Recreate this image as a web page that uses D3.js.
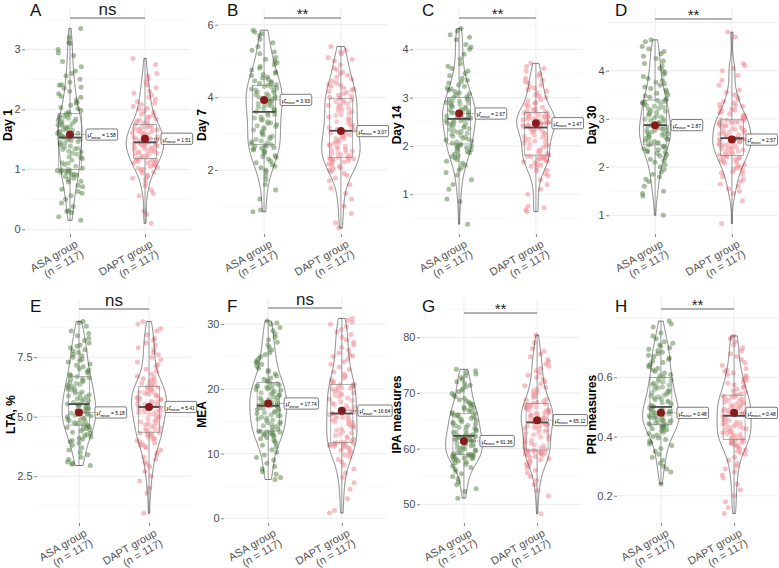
<!DOCTYPE html>
<html><head><meta charset="utf-8">
<script src="https://cdn.jsdelivr.net/npm/d3@7"></script>
<style>body{margin:0;background:#fff}svg{display:block}text{font-family:"Liberation Sans",Arial,Helvetica,sans-serif}</style>
</head><body><svg id="c" width="779" height="568"></svg>
<script>
// ---------------- DATA ----------------
const groups = ["ASA group", "DAPT group"];
const nLabels = ["(n = 117)", "(n = 117)"];
const panelTags = ["A","B","C","D","E","F","G","H"];
const yTitles = ["Day 1","Day 7","Day 14","Day 30","LTA, %","MEA","IPA measures","PRI measures"];
const sigLabels = ["ns","**","**","**","ns","ns","**","**"];
const meanASA  = [1.58, 3.93, 2.67, 2.87, 5.18, 17.74, 61.36, 0.48];
const meanDAPT = [1.51, 3.07, 2.47, 2.57, 5.41, 16.64, 65.12, 0.48];
const meanText = [["1.58","1.51"],["3.93","3.07"],["2.67","2.47"],["2.87","2.57"],["5.18","5.41"],["17.74","16.64"],["61.36","65.12"],["0.48","0.48"]];
// box stats: [lower whisker, q1, median, q3, upper whisker]
const boxASA = [[0.15,1.0,1.53,1.93,3.35],[0.85,2.7,3.6,4.33,5.85],[0.38,2.04,2.56,3.0,4.43],[1.0,2.46,2.87,3.39,4.64],
                [2.95,4.65,5.53,6.68,9.0],[6.0,13.5,17.4,20.96,30.5],[51.1,59.0,62.3,66.35,74.25],[0.24,0.44,0.50,0.60,0.79]];
const boxDAPT = [[0.1,1.18,1.45,1.75,2.85],[0.4,2.35,3.08,3.96,5.4],[0.64,1.81,2.38,2.69,3.71],[0.83,2.24,2.6,2.98,4.8],
                 [0.94,4.35,5.41,6.26,9.0],[0.8,11.7,16.2,20.7,30.9],[48.3,59.75,64.7,68.1,80.4],[0.14,0.39,0.47,0.54,0.74]];
const tickValues = [[0,1,2,3],[2,4,6],[1,2,3,4],[1,2,3,4],[2.5,5,7.5],[0,10,20,30],[50,60,70,80],[0.2,0.4,0.6]];
const tickLabels = [["0","1","2","3"],["2","4","6"],["1","2","3","4"],["1","2","3","4"],["2.5","5.0","7.5"],["0","10","20","30"],["50","60","70","80"],["0.2","0.4","0.6"]];

const asaDay1 = [0.15,0.21,0.28,0.3,0.31,0.38,0.44,0.5,0.56,0.6,0.63,0.67,0.71,0.73,0.79,0.8,0.83,0.85,0.88,0.9,0.91,0.92,0.95,0.95,0.96,0.98,0.98,0.99,1.0,
1.02,1.05,1.08,1.1,1.11,1.15,1.18,1.2,1.21,1.25,1.27,1.29,1.3,1.33,1.34,1.35,1.37,1.39,1.4,1.42,1.44,1.45,1.46,1.48,1.49,1.5,1.51,1.53,1.54,
1.55,1.57,1.58,1.6,1.6,1.62,1.63,1.65,1.66,1.67,1.69,1.7,1.71,1.73,1.74,1.75,1.77,1.78,1.8,1.8,1.82,1.84,1.85,1.86,1.88,1.89,1.9,1.92,1.93,
1.95,1.98,2.01,2.03,2.07,2.1,2.12,2.16,2.2,2.22,2.26,2.3,2.35,2.37,2.4,2.41,2.45,2.5,2.56,2.6,2.64,2.71,2.8,2.9,2.94,3.0,3.1,3.12,3.2,3.35];
const daptDay1 = [0.1,0.25,0.3,0.56,0.6,0.66,0.72,0.77,0.83,0.85,0.88,0.9,0.94,0.95,0.98,1.0,1.02,1.03,1.05,1.07,1.09,1.1,1.11,1.12,1.13,1.15,1.15,1.16,1.18,
1.19,1.2,1.21,1.22,1.23,1.25,1.26,1.27,1.28,1.29,1.3,1.31,1.32,1.33,1.34,1.35,1.36,1.37,1.38,1.39,1.4,1.4,1.41,1.42,1.43,1.43,1.44,1.45,1.45,
1.46,1.47,1.48,1.49,1.5,1.51,1.52,1.53,1.54,1.55,1.57,1.58,1.59,1.6,1.61,1.62,1.63,1.64,1.65,1.66,1.67,1.68,1.69,1.7,1.71,1.72,1.73,1.74,1.75,
1.77,1.79,1.8,1.82,1.84,1.86,1.88,1.9,1.92,1.95,1.97,2.0,2.02,2.05,2.08,2.1,2.13,2.17,2.2,2.24,2.27,2.3,2.36,2.4,2.45,2.5,2.56,2.6,2.75,2.85];
const asaDay7 = [0.85,0.9,1.2,1.45,1.6,1.74,1.85,1.95,2.0,2.06,2.1,2.15,2.2,2.24,2.3,2.35,2.37,2.4,2.45,2.5,2.52,2.55,2.58,2.6,2.62,2.65,2.66,2.68,2.7,
2.72,2.75,2.78,2.8,2.84,2.86,2.9,2.93,2.96,3.0,3.03,3.06,3.1,3.13,3.16,3.2,3.22,3.25,3.28,3.3,3.33,3.37,3.4,3.43,3.46,3.5,3.53,3.56,3.6,
3.62,3.65,3.68,3.7,3.73,3.76,3.78,3.8,3.83,3.86,3.88,3.9,3.93,3.95,3.98,4.0,4.03,4.05,4.08,4.1,4.13,4.15,4.18,4.2,4.23,4.25,4.28,4.3,4.33,
4.35,4.38,4.4,4.43,4.46,4.5,4.53,4.56,4.6,4.63,4.66,4.7,4.75,4.8,4.85,4.9,4.95,5.0,5.05,5.1,5.2,5.25,5.3,5.4,5.5,5.6,5.7,5.75,5.8,5.85];
const daptDay7 = [0.4,0.55,0.8,1.0,1.2,1.35,1.5,1.6,1.7,1.78,1.85,1.9,1.95,2.0,2.03,2.06,2.1,2.13,2.16,2.2,2.22,2.25,2.27,2.28,2.3,2.31,2.33,2.34,2.35,
2.37,2.4,2.42,2.45,2.47,2.5,2.52,2.55,2.57,2.6,2.62,2.65,2.67,2.7,2.72,2.75,2.77,2.8,2.82,2.85,2.87,2.9,2.92,2.95,2.97,3.0,3.02,3.05,3.08,
3.1,3.13,3.16,3.2,3.23,3.26,3.3,3.33,3.36,3.4,3.43,3.46,3.5,3.53,3.56,3.6,3.63,3.66,3.7,3.72,3.75,3.78,3.8,3.83,3.86,3.88,3.9,3.93,3.96,
3.98,4.0,4.03,4.06,4.1,4.13,4.16,4.2,4.23,4.26,4.3,4.33,4.36,4.4,4.45,4.5,4.55,4.6,4.65,4.7,4.75,4.8,4.9,5.0,5.05,5.1,5.2,5.25,5.3,5.4];
const asaDay14 = [0.38,0.85,0.9,1.1,1.2,1.3,1.4,1.45,1.5,1.55,1.6,1.64,1.68,1.72,1.75,1.78,1.8,1.83,1.86,1.88,1.9,1.92,1.94,1.96,1.98,2.0,2.01,2.02,2.04,
2.06,2.08,2.1,2.12,2.14,2.16,2.18,2.2,2.22,2.24,2.26,2.28,2.3,2.32,2.34,2.36,2.38,2.4,2.42,2.43,2.45,2.46,2.48,2.49,2.5,2.52,2.53,2.55,2.56,
2.57,2.59,2.6,2.62,2.63,2.65,2.66,2.68,2.69,2.7,2.72,2.73,2.75,2.76,2.78,2.8,2.81,2.83,2.84,2.86,2.88,2.89,2.9,2.92,2.93,2.95,2.96,2.98,3.0,
3.02,3.05,3.08,3.1,3.12,3.15,3.18,3.2,3.23,3.26,3.3,3.33,3.36,3.4,3.45,3.5,3.55,3.6,3.65,3.7,3.8,3.9,4.0,4.05,4.1,4.2,4.25,4.3,4.38,4.43];
const daptDay14 = [0.64,0.68,0.72,0.75,1.0,1.1,1.2,1.3,1.38,1.42,1.48,1.5,1.55,1.58,1.6,1.62,1.65,1.67,1.69,1.7,1.72,1.73,1.75,1.76,1.77,1.78,1.79,1.8,1.81,
1.83,1.85,1.88,1.9,1.92,1.95,1.97,2.0,2.02,2.04,2.06,2.08,2.1,2.12,2.14,2.16,2.18,2.2,2.22,2.24,2.26,2.28,2.3,2.31,2.33,2.34,2.35,2.37,2.38,
2.39,2.4,2.42,2.43,2.44,2.45,2.46,2.48,2.49,2.5,2.51,2.52,2.53,2.54,2.55,2.56,2.57,2.58,2.59,2.6,2.61,2.62,2.63,2.64,2.65,2.66,2.67,2.68,2.69,
2.71,2.73,2.75,2.77,2.8,2.82,2.85,2.88,2.9,2.93,2.96,3.0,3.03,3.06,3.1,3.13,3.16,3.2,3.23,3.26,3.3,3.33,3.36,3.4,3.45,3.5,3.55,3.6,3.65,3.71];
const asaDay30 = [1.0,1.4,1.45,1.5,1.6,1.7,1.75,1.8,1.85,1.9,1.95,2.0,2.05,2.1,2.13,2.16,2.2,2.23,2.26,2.28,2.3,2.32,2.34,2.36,2.38,2.4,2.42,2.44,2.46,
2.48,2.5,2.51,2.53,2.54,2.56,2.57,2.59,2.6,2.62,2.63,2.65,2.66,2.68,2.69,2.7,2.72,2.73,2.75,2.76,2.77,2.79,2.8,2.81,2.82,2.84,2.85,2.86,2.87,
2.89,2.91,2.93,2.95,2.97,2.99,3.0,3.02,3.04,3.06,3.08,3.1,3.12,3.14,3.16,3.18,3.2,3.22,3.24,3.26,3.28,3.3,3.32,3.33,3.34,3.35,3.36,3.38,3.39,
3.42,3.45,3.48,3.5,3.53,3.56,3.6,3.63,3.66,3.7,3.73,3.76,3.8,3.84,3.88,3.92,3.96,4.0,4.05,4.1,4.15,4.2,4.25,4.3,4.35,4.4,4.45,4.5,4.6,4.64];
const daptDay30 = [0.83,1.3,1.45,1.5,1.55,1.6,1.65,1.7,1.75,1.8,1.85,1.88,1.9,1.93,1.96,1.98,2.0,2.03,2.05,2.08,2.1,2.12,2.14,2.16,2.18,2.2,2.21,2.22,2.24,
2.25,2.27,2.28,2.3,2.31,2.33,2.34,2.36,2.37,2.38,2.4,2.41,2.42,2.43,2.45,2.46,2.47,2.48,2.5,2.51,2.52,2.53,2.54,2.55,2.56,2.57,2.58,2.59,2.6,
2.61,2.63,2.64,2.66,2.67,2.69,2.7,2.72,2.73,2.75,2.76,2.78,2.79,2.8,2.82,2.83,2.85,2.86,2.87,2.89,2.9,2.91,2.92,2.93,2.94,2.95,2.96,2.97,2.98,
3.0,3.02,3.03,3.06,3.08,3.1,3.13,3.16,3.18,3.2,3.23,3.26,3.28,3.3,3.33,3.36,3.4,3.45,3.5,3.55,3.6,3.7,3.8,3.9,4.0,4.05,4.1,4.15,4.7,4.8];
const asaLTA = [2.95,3.0,3.05,3.1,3.2,3.3,3.4,3.5,3.6,3.7,3.8,3.9,3.95,4.0,4.05,4.1,4.15,4.2,4.25,4.3,4.35,4.4,4.45,4.5,4.52,4.55,4.58,4.62,4.65,
4.68,4.7,4.73,4.76,4.8,4.83,4.86,4.9,4.93,4.96,5.0,5.03,5.06,5.1,5.13,5.16,5.2,5.23,5.26,5.3,5.33,5.36,5.4,5.42,5.45,5.47,5.5,5.52,5.53,
5.56,5.6,5.64,5.68,5.72,5.76,5.8,5.84,5.88,5.92,5.96,6.0,6.04,6.08,6.12,6.16,6.2,6.24,6.28,6.32,6.36,6.4,6.44,6.48,6.52,6.56,6.6,6.64,6.68,
6.72,6.78,6.84,6.9,6.96,7.02,7.1,7.16,7.22,7.3,7.36,7.42,7.5,7.56,7.62,7.7,7.76,7.82,7.9,7.96,8.02,8.1,8.2,8.3,8.4,8.5,8.6,8.8,8.95,9.0];
const daptLTA = [0.94,1.8,2.0,2.3,2.5,2.7,2.9,3.0,3.1,3.2,3.3,3.4,3.5,3.6,3.7,3.75,3.8,3.85,3.9,3.95,4.0,4.05,4.1,4.15,4.2,4.25,4.28,4.32,4.35,
4.38,4.42,4.46,4.5,4.54,4.58,4.62,4.66,4.7,4.74,4.78,4.82,4.86,4.9,4.94,4.98,5.02,5.06,5.1,5.13,5.16,5.2,5.23,5.26,5.3,5.33,5.36,5.39,5.41,
5.44,5.47,5.5,5.53,5.56,5.59,5.62,5.65,5.68,5.71,5.74,5.77,5.8,5.83,5.86,5.89,5.92,5.95,5.98,6.01,6.04,6.07,6.1,6.13,6.16,6.19,6.22,6.24,6.26,
6.3,6.35,6.4,6.45,6.5,6.55,6.6,6.65,6.7,6.8,6.9,7.0,7.1,7.2,7.3,7.4,7.5,7.6,7.7,7.8,7.9,8.0,8.1,8.2,8.3,8.45,8.6,8.7,8.9,9.0];
const asaMEA = [6.0,6.3,6.8,7.2,7.6,8.0,8.5,9.0,9.4,9.8,10.2,10.6,11.0,11.3,11.6,11.9,12.1,12.3,12.5,12.7,12.8,12.9,13.0,13.1,13.2,13.3,13.35,13.4,13.5,
13.6,13.8,14.0,14.2,14.3,14.5,14.6,14.8,14.9,15.1,15.2,15.4,15.5,15.6,15.8,15.9,16.0,16.2,16.3,16.4,16.5,16.6,16.8,16.9,17.0,17.1,17.2,17.3,17.4,
17.5,17.6,17.8,17.9,18.0,18.2,18.3,18.4,18.6,18.7,18.8,19.0,19.1,19.2,19.4,19.5,19.6,19.8,19.9,20.0,20.1,20.2,20.3,20.4,20.5,20.6,20.7,20.8,20.96,
21.1,21.3,21.5,21.7,22.0,22.3,22.6,22.9,23.2,23.5,23.8,24.0,24.1,24.4,24.7,25.0,25.3,25.6,26.0,26.4,26.8,27.2,27.6,28.0,28.5,29.0,29.5,30.0,30.2,30.5];
const daptMEA = [0.8,1.2,3.0,4.5,5.5,6.3,7.0,7.6,8.2,8.7,9.1,9.5,9.8,10.1,10.3,10.5,10.7,10.9,11.0,11.1,11.2,11.3,11.4,11.5,11.55,11.6,11.65,11.7,11.7,
11.8,12.0,12.2,12.4,12.6,12.8,13.0,13.2,13.4,13.6,13.8,14.0,14.2,14.3,14.5,14.6,14.8,14.9,15.1,15.2,15.4,15.5,15.6,15.8,15.9,16.0,16.1,16.15,16.2,
16.4,16.6,16.8,17.0,17.2,17.4,17.6,17.8,18.0,18.2,18.4,18.6,18.8,19.0,19.1,19.3,19.4,19.6,19.7,19.9,20.0,20.1,20.2,20.3,20.4,20.5,20.6,20.65,20.7,
20.9,21.1,21.4,21.7,22.0,22.3,22.6,23.0,23.4,23.8,24.2,24.6,25.0,25.1,25.3,25.6,26.0,26.4,26.8,27.2,27.6,28.0,28.4,28.8,29.2,29.6,30.0,30.3,30.6,30.9];
const asaIPA = [51.1,52.3,52.8,53.5,54.0,54.6,55.0,55.5,55.9,56.3,56.6,56.9,57.2,57.4,57.6,57.8,58.0,58.1,58.2,58.3,58.4,58.5,58.6,58.7,58.8,58.85,58.9,58.95,59.0,
59.1,59.2,59.3,59.5,59.6,59.7,59.9,60.0,60.1,60.2,60.4,60.5,60.6,60.8,60.9,61.0,61.1,61.3,61.4,61.5,61.6,61.7,61.8,61.9,62.0,62.1,62.2,62.25,62.3,
62.4,62.6,62.7,62.9,63.0,63.2,63.3,63.5,63.6,63.8,63.9,64.1,64.2,64.4,64.5,64.7,64.8,65.0,65.1,65.3,65.4,65.6,65.7,65.8,65.9,66.0,66.1,66.2,66.35,
66.5,66.7,66.9,67.1,67.3,67.5,67.7,67.9,68.1,68.3,68.5,68.8,69.0,69.3,69.6,69.9,70.2,70.5,70.8,71.1,71.4,71.7,72.0,72.4,72.8,73.1,73.4,73.7,74.0,74.25];
const daptIPA = [48.3,51.5,52.5,53.5,54.3,55.0,55.6,56.1,56.5,56.9,57.2,57.5,57.8,58.0,58.2,58.4,58.6,58.8,58.9,59.0,59.1,59.2,59.3,59.4,59.5,59.55,59.6,59.7,59.75,
59.9,60.1,60.3,60.5,60.7,60.9,61.1,61.3,61.5,61.7,61.9,62.1,62.3,62.5,62.7,62.9,63.1,63.3,63.5,63.6,63.8,63.9,64.0,64.1,64.2,64.3,64.4,64.55,64.7,
64.8,64.9,65.0,65.2,65.3,65.4,65.5,65.7,65.8,65.9,66.0,66.2,66.3,66.4,66.5,66.7,66.8,66.9,67.0,67.2,67.3,67.4,67.5,67.6,67.7,67.8,67.9,68.0,68.1,
68.3,68.5,68.7,68.9,69.2,69.5,69.8,70.1,70.4,70.7,71.0,71.3,71.6,72.0,72.4,72.8,73.2,73.6,74.0,74.4,74.8,75.2,75.6,76.0,76.5,77.0,77.5,78.0,79.0,80.4];
const asaPRI = [0.24,0.28,0.29,0.3,0.31,0.32,0.33,0.34,0.35,0.36,0.37,0.375,0.38,0.385,0.39,0.395,0.40,0.405,0.41,0.415,0.42,0.423,0.426,0.429,0.432,0.435,0.437,0.439,0.44,
0.442,0.444,0.446,0.448,0.45,0.452,0.454,0.456,0.458,0.46,0.462,0.464,0.466,0.468,0.47,0.472,0.474,0.476,0.478,0.48,0.482,0.484,0.486,0.488,0.49,0.492,0.494,0.497,0.50,
0.503,0.507,0.51,0.514,0.517,0.52,0.524,0.527,0.53,0.534,0.537,0.54,0.544,0.547,0.55,0.554,0.557,0.56,0.564,0.567,0.57,0.574,0.577,0.58,0.584,0.587,0.59,0.595,0.60,
0.605,0.61,0.615,0.62,0.625,0.63,0.635,0.64,0.645,0.65,0.655,0.66,0.665,0.67,0.675,0.68,0.685,0.69,0.695,0.70,0.705,0.71,0.715,0.72,0.73,0.74,0.75,0.77,0.78,0.79];
const daptPRI = [0.14,0.16,0.18,0.2,0.22,0.24,0.26,0.27,0.28,0.29,0.3,0.31,0.32,0.33,0.34,0.345,0.35,0.355,0.36,0.365,0.37,0.373,0.376,0.378,0.38,0.383,0.386,0.388,0.39,
0.393,0.396,0.398,0.40,0.403,0.406,0.408,0.41,0.413,0.416,0.418,0.42,0.423,0.426,0.428,0.43,0.433,0.436,0.438,0.44,0.443,0.446,0.448,0.45,0.453,0.456,0.46,0.465,0.47,
0.472,0.474,0.477,0.479,0.482,0.484,0.487,0.489,0.492,0.494,0.497,0.499,0.502,0.504,0.507,0.509,0.512,0.514,0.517,0.519,0.522,0.524,0.527,0.529,0.532,0.534,0.536,0.538,0.54,
0.545,0.55,0.555,0.56,0.565,0.57,0.575,0.58,0.585,0.59,0.595,0.6,0.605,0.61,0.615,0.62,0.625,0.63,0.64,0.65,0.66,0.67,0.68,0.69,0.70,0.71,0.72,0.73,0.735,0.74];

const seriesASA = [asaDay1, asaDay7, asaDay14, asaDay30, asaLTA, asaMEA, asaIPA, asaPRI];
const seriesDAPT = [daptDay1, daptDay7, daptDay14, daptDay30, daptLTA, daptMEA, daptIPA, daptPRI];

// ---------------- LAYOUT (pixels) ----------------
const layout = [
  {l:25, r:190, t:8, b:234, lo:-0.078, hi:3.69, sig:18},
  {l:218, r:387, t:8, b:234, lo:0.237, hi:6.46, sig:18},
  {l:413, r:582, t:8, b:234, lo:0.176, hi:4.855, sig:18},
  {l:609, r:778, t:8, b:234, lo:0.612, hi:5.30, sig:19},
  {l:37, r:191, t:298, b:523, lo:0.534, hi:9.99, sig:309},
  {l:224, r:386, t:298, b:523, lo:-0.73, hi:34.05, sig:308},
  {l:420, r:581, t:298, b:523, lo:46.64, hi:87.06, sig:313},
  {l:617, r:778, t:298, b:523, lo:0.108, hi:0.868, sig:309}
];
const tagX = [30, 227, 422, 615, 30, 227, 422, 615];
const tagY = [16, 16, 16, 16, 312, 312, 312, 312];
const fills = ["#4F7F3F", "#EE8C93"];
const fillOp = [0.5, 0.55];

const svg = d3.select("#c");

function kde(vals) {
  const s = vals.slice().sort(d3.ascending);
  const n = s.length, sd = d3.deviation(s);
  const iqr = d3.quantileSorted(s, 0.75) - d3.quantileSorted(s, 0.25);
  const bw = 0.9 * Math.min(sd, iqr / 1.34) * Math.pow(n, -0.2);
  const lo = s[0], hi = s[n - 1];
  return d3.range(512).map(i => {
    const yv = lo + (hi - lo) * i / 511;
    return [yv, d3.sum(s, v => Math.exp(-0.5 * ((yv - v) / bw) ** 2)) / (n * bw * Math.sqrt(2 * Math.PI))];
  });
}
// deterministic jitter offset in [-1, 1] (layout only, not data)
function jit(j, k) { const v = Math.sin((j + 1) * 12.9898 + k * 78.233) * 43758.5453; return (v - Math.floor(v)) * 2 - 1; }

layout.forEach((L, i) => {
  const g = svg.append("g");
  const x = d3.scalePoint().domain(groups).range([L.l, L.r]).padding(0.6);
  const step = x.step();
  const y = d3.scaleLinear().domain([L.lo, L.hi]).range([L.b, L.t]);
  const tk = tickValues[i], st = tk[1] - tk[0];

  // grid
  const majors = [], minors = [];
  for (let k = -20; k <= 20; k++) {
    const v = +(tk[0] + k * st).toFixed(6), m = +(tk[0] + (k + 0.5) * st).toFixed(6);
    if (v >= L.lo && v <= L.hi) majors.push(v);
    if (m >= L.lo && m <= L.hi) minors.push(m);
  }
  g.selectAll(".gmin").data(minors).join("line").attr("x1", L.l).attr("x2", L.r)
    .attr("y1", d => y(d)).attr("y2", d => y(d)).attr("stroke", "#F0F0F0").attr("stroke-width", 0.5);
  g.selectAll(".gmaj").data(majors).join("line").attr("x1", L.l).attr("x2", L.r)
    .attr("y1", d => y(d)).attr("y2", d => y(d)).attr("stroke", "#EAEAEA").attr("stroke-width", 0.9);
  g.selectAll(".gv").data(groups).join("line").attr("x1", d => x(d)).attr("x2", d => x(d))
    .attr("y1", L.t).attr("y2", L.b).attr("stroke", "#EAEAEA").attr("stroke-width", 0.9);

  const series = [seriesASA[i], seriesDAPT[i]];
  const boxes = [boxASA[i], boxDAPT[i]];
  const means = [meanASA[i], meanDAPT[i]];

  // points
  series.forEach((vals, gi) => {
    const cx = x(groups[gi]);
    g.append("g").selectAll("circle").data(vals).join("circle")
      .attr("cx", (d, j) => cx + jit(j, i * 2 + gi) * 0.17 * step)
      .attr("cy", d => y(d)).attr("r", 2.5)
      .attr("fill", fills[gi]).attr("fill-opacity", fillOp[gi]);
  });

  // boxes
  boxes.forEach((b, gi) => {
    const cx = x(groups[gi]), hw = 0.15 * step;
    const bg = g.append("g");
    bg.append("line").attr("x1", cx).attr("x2", cx).attr("y1", y(b[0])).attr("y2", y(b[1]))
      .attr("stroke", "#7d7d7d").attr("stroke-width", 0.7);
    bg.append("line").attr("x1", cx).attr("x2", cx).attr("y1", y(b[3])).attr("y2", y(b[4]))
      .attr("stroke", "#7d7d7d").attr("stroke-width", 0.7);
    bg.append("rect").attr("x", cx - hw).attr("width", 2 * hw).attr("y", y(b[3])).attr("height", y(b[1]) - y(b[3]))
      .attr("fill", "#fff").attr("fill-opacity", 0.15).attr("stroke", "#7d7d7d").attr("stroke-width", 0.6);
    bg.append("line").attr("x1", cx - hw).attr("x2", cx + hw).attr("y1", y(b[2])).attr("y2", y(b[2]))
      .attr("stroke", "#4a4a4a").attr("stroke-width", 1.8);
  });

  // violins
  const dens = series.map(kde);
  const dmax = d3.max(dens, d => d3.max(d, e => e[1]));
  dens.forEach((dd, gi) => {
    const cx = x(groups[gi]), hw = 0.25 * step;
    const area = d3.area().y(d => y(d[0])).x0(d => cx - hw * d[1] / dmax).x1(d => cx + hw * d[1] / dmax);
    g.append("path").attr("d", area(dd)).attr("fill", "none").attr("stroke", "#2b2b2b").attr("stroke-width", 0.6);
  });

  // means + labels
  means.forEach((m, gi) => {
    const cx = x(groups[gi]), cy = y(m);
    const lg = g.append("g");
    const line = lg.append("line");
    g.append("circle").attr("cx", cx).attr("cy", cy).attr("r", 4).attr("fill", "#8B1A1A");
    const rect = lg.append("rect");
    const t = lg.append("text").attr("x", 0).attr("y", cy + 2.8).attr("fill", "#000");
    t.append("tspan").attr("font-size", 6.2).text("\u03BC\u0302");
    t.append("tspan").attr("font-size", 3.8).attr("dy", 1.3).text("mean");
    t.append("tspan").attr("font-size", 4.9).attr("dy", -1.3).text(" = " + meanText[i][gi]);
    const bb = t.node().getBBox();
    const w = bb.width + 3.2;
    let lx = cx + 16;
    if (lx + w > 777.5) lx = 777.5 - w;
    t.attr("x", lx + 1.6);
    line.attr("x1", cx).attr("x2", lx).attr("y1", cy).attr("y2", cy)
      .attr("stroke", "#333").attr("stroke-width", 0.6).attr("stroke-dasharray", "1.2,1");
    rect.attr("x", lx).attr("y", cy - 5.6).attr("width", w).attr("height", 11.2)
      .attr("rx", 1.5).attr("fill", "#fff").attr("stroke", "#222").attr("stroke-width", 0.6);
    lg.raise();
  });

  // significance
  g.append("line").attr("x1", x(groups[0])).attr("x2", x(groups[1])).attr("y1", L.sig).attr("y2", L.sig)
    .attr("stroke", "#555").attr("stroke-width", 0.9);
  const isNs = sigLabels[i] === "ns";
  g.append("text").attr("x", (x(groups[0]) + x(groups[1])) / 2).attr("y", isNs ? L.sig - 3 : L.sig + 1)
    .attr("text-anchor", "middle").attr("font-size", isNs ? 17 : 15).attr("fill", "#222").text(sigLabels[i]);

  // tag
  svg.append("text").attr("x", tagX[i]).attr("y", tagY[i]).attr("font-size", 17).attr("fill", "#111").text(panelTags[i]);

  // y axis
  const ya = g.append("g").attr("transform", `translate(${L.l},0)`)
    .call(d3.axisLeft(y).tickValues(tk).tickFormat((d, j) => tickLabels[i][j]).tickSize(3).tickPadding(1.5));
  ya.select(".domain").remove();
  ya.selectAll(".tick line").attr("stroke", "#333").attr("stroke-width", 0.6);
  ya.selectAll(".tick text").attr("font-size", 11).attr("fill", "#4D4D4D").attr("font-family", null);
  let maxW = 0;
  ya.selectAll(".tick text").each(function () { maxW = Math.max(maxW, this.getBBox().width); });
  const titleX = Math.max(L.l - 4.5 - maxW - 2.5, (i % 4) * 195 + 11);
  g.append("text").attr("transform", `translate(${titleX},${(L.t + L.b) / 2 + 4}) rotate(-90)`)
    .attr("text-anchor", "middle").attr("font-size", 12).attr("font-weight", "bold").attr("fill", "#000").text(yTitles[i]);

  // x axis
  const xa = g.append("g").attr("transform", `translate(0,${L.b})`)
    .call(d3.axisBottom(x).tickSize(3));
  xa.select(".domain").remove();
  xa.selectAll(".tick line").attr("stroke", "#333").attr("stroke-width", 0.6);
  xa.selectAll(".tick text").each(function (d, j) {
    const t = d3.select(this);
    t.text(null).attr("x", 0).attr("y", 0).attr("dy", null).attr("font-family", null)
      .attr("text-anchor", "end").attr("font-size", 11).attr("fill", "#555")
      .attr("transform", "translate(4,5) rotate(-30)");
    t.append("tspan").attr("x", 0).attr("dy", "0.75em").text(d);
    t.append("tspan").attr("x", 0).attr("dy", "1.05em").text(nLabels[j]);
  });
});
</script></body></html>
